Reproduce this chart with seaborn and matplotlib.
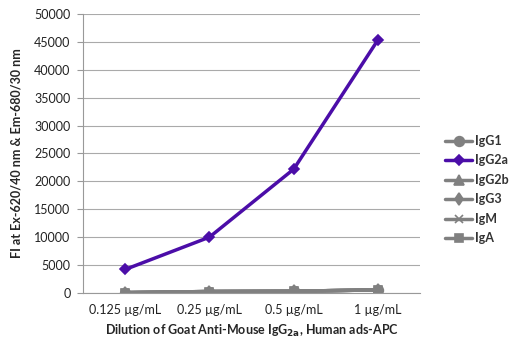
import matplotlib
matplotlib.use("Agg")
import matplotlib.pyplot as plt
import seaborn as sns
import pandas as pd
import numpy as np

categories = ["0.125 µg/mL", "0.25 µg/mL", "0.5 µg/mL", "1 µg/mL"]
series_names = ["IgG1", "IgG2a", "IgG2b", "IgG3", "IgM", "IgA"]
igg1 = [50, 250, 300, 550]
igg2a = [4200, 10000, 22200, 45400]
igg2b = [50, 250, 300, 550]
igg3 = [50, 250, 300, 550]
igm = [50, 250, 300, 550]
iga = [50, 250, 300, 550]
yticks = [0, 5000, 10000, 15000, 20000, 25000, 30000, 35000, 40000, 45000, 50000]

values = [igg1, igg2a, igg2b, igg3, igm, iga]
rows = []
for name, vals in zip(series_names, values):
    for i, v in enumerate(vals):
        rows.append({"x": i, "cat": categories[i], "series": name, "value": v})
df = pd.DataFrame(rows)

sns.set_style("white")
plt.rcParams["font.family"] = ["Lato", "DejaVu Sans"]

fig = plt.figure(figsize=(5.15, 3.43), dpi=100)
ax = fig.add_axes([0.161, 0.146, 0.655, 0.813])

gray = "#808080"
purple = "#4B0DA8"
palette = {"IgG1": gray, "IgG2a": purple, "IgG2b": gray, "IgG3": gray, "IgM": gray, "IgA": gray}
markers = {"IgG1": "o", "IgG2a": "D", "IgG2b": "^", "IgG3": "d", "IgM": "x", "IgA": "s"}
msize = {"IgG1": 7, "IgG2a": 5, "IgG2b": 7, "IgG3": 6, "IgM": 6, "IgA": 6}

order_draw = ["IgG1", "IgG2b", "IgG3", "IgM", "IgA", "IgG2a"]
for name in order_draw:
    sub = df[df["series"] == name]
    sns.lineplot(data=sub, x="x", y="value", ax=ax, color=palette[name], linewidth=2.5,
                 marker=markers[name], markersize=msize[name], markeredgecolor=palette[name],
                 markeredgewidth=1.2, label=name, legend=False, zorder=3 if name == "IgG2a" else 2)

ax.set_xlim(-0.5, 3.5)
ax.set_ylim(0, 50000)
ax.set_yticks(yticks)
ax.set_yticklabels([str(t) for t in yticks])
ax.set_xticks(range(4))
ax.set_xticklabels(categories)
ax.set_xticks([-0.5, 0.5, 1.5, 2.5, 3.5], minor=True)
ax.tick_params(axis="x", which="major", length=0, pad=8, labelsize=9, labelcolor="#222222")
ax.tick_params(axis="x", which="minor", length=4, color="#999999", width=0.8, direction="out")
ax.tick_params(axis="y", which="major", length=4, color="#999999", width=0.8, direction="out",
               left=True, labelsize=9, labelcolor="#222222", pad=5)
ax.grid(axis="y", color="#aaaaaa", linewidth=0.8)
ax.set_axisbelow(True)
for s in ["top", "right"]:
    ax.spines[s].set_visible(False)
ax.spines["left"].set_color("#999999")
ax.spines["bottom"].set_color("#999999")
ax.spines["left"].set_linewidth(0.8)
ax.spines["bottom"].set_linewidth(0.8)

ax.set_ylabel("FI at Ex-620/40 nm & Em-680/30 nm", fontsize=9, fontweight="bold", labelpad=8)
ax.set_xlabel(r"Dilution of Goat Anti-Mouse IgG$_{\mathbf{2a}}$, Human ads-APC", fontsize=9,
              fontweight="bold", labelpad=5)

handles, labels = ax.get_legend_handles_labels()
hmap = dict(zip(labels, handles))
leg = ax.legend([hmap[n] for n in series_names], series_names, loc="center left",
                bbox_to_anchor=(1.04, 0.37), frameon=False, handlelength=2.2, handletextpad=0.2,
                labelspacing=0.6, prop={"weight": "bold", "size": 9})
for txt in leg.get_texts():
    txt.set_color("#333333")

fig.savefig("out.png", dpi=100)
